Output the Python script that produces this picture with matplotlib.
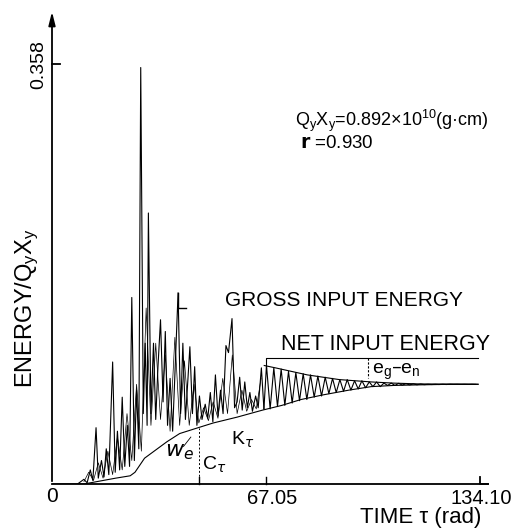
import matplotlib
matplotlib.use("Agg")
import matplotlib.pyplot as plt

# ---------------- data ----------------
# lower boundary curve (K_tau / W_e boundary)
low_t = [0, 10, 12, 16, 20, 24.5, 26, 27.5, 29, 33, 36, 40, 45.8, 50.5, 58, 62, 66,
         72, 78, 85, 93, 100, 107, 115, 125, 133.5]
low_e = [0, 0, 0.001, 0.003, 0.005, 0.007, 0.010, 0.016, 0.022, 0.030, 0.036, 0.043,
         0.048, 0.052, 0.057, 0.060, 0.063, 0.067, 0.072, 0.076, 0.080, 0.083, 0.084,
         0.0845, 0.085, 0.085]

# gross input energy (spiky part, tau < 67)
gross_t = [8, 10, 11, 12, 12.8, 13.8, 14.5, 15.5, 16.3, 17, 17.8, 19, 19.8, 20.5, 21.2,
           22, 22.8, 23.6, 24.3, 25, 25.8, 26.5, 27.2, 27.8, 28.6, 29.2, 29.8, 30.2, 31,
           31.8, 32.5, 33.2, 34, 34.8, 35.5, 36.2, 37, 37.8, 38.6, 39.5, 40.3, 41, 41.8,
           42.6, 43.2, 44, 44.7, 45.4, 46.2, 47, 48, 48.8, 49.6, 50.4, 51.2, 52, 52.8,
           53.6, 54.5, 55.3, 56.4, 57.2, 58, 58.8, 59.6, 60.4, 61.2, 62, 62.8, 63.8,
           64.6, 65.6, 66.4]
gross_e = [0, 0.004, 0.001, 0.012, 0.003, 0.048, 0.005, 0.020, 0.006, 0.030, 0.008,
           0.104, 0.010, 0.045, 0.012, 0.074, 0.015, 0.050, 0.015, 0.159, 0.020, 0.080,
           0.030, 0.355, 0.060, 0.120, 0.050, 0.231, 0.060, 0.120, 0.055, 0.100, 0.140,
           0.070, 0.130, 0.050, 0.090, 0.045, 0.100, 0.163, 0.060, 0.120, 0.055, 0.090,
           0.117, 0.060, 0.100, 0.050, 0.075, 0.055, 0.068, 0.056, 0.078, 0.053, 0.093,
           0.058, 0.080, 0.060, 0.118, 0.112, 0.141, 0.065, 0.070, 0.091, 0.063, 0.087,
           0.065, 0.078, 0.062, 0.075, 0.065, 0.099, 0.064]

# secondary (net) oscillation in the spiky region
net_t = [10, 11.5, 13, 14.5, 16, 17.5, 19, 20.5, 22, 23.5, 25, 26.5, 28, 29.5, 31, 32.5,
         34, 35.5, 37, 38.5, 40, 41.5, 43, 44.5, 46, 47.5, 49, 50.5, 52, 53.5, 55, 56.5,
         58, 59.5, 61, 62.5, 64, 65.5]
net_e = [0.002, 0.010, 0.003, 0.018, 0.005, 0.028, 0.008, 0.040, 0.012, 0.060, 0.020,
         0.085, 0.028, 0.150, 0.050, 0.120, 0.055, 0.110, 0.045, 0.125, 0.050, 0.105,
         0.050, 0.085, 0.052, 0.065, 0.054, 0.070, 0.056, 0.090, 0.060, 0.110, 0.060,
         0.080, 0.062, 0.072, 0.064, 0.090]

# decaying oscillation after tau = 67: peaks and troughs
peak_t = [67.2, 69.5, 71.8, 74.1, 76.4, 78.7, 81.0, 83.3, 85.6, 87.9, 90.2, 92.5, 94.8,
          97.1, 99.4, 101.7, 104.0, 106.3, 108.6, 110.9, 113.2, 115.5, 117.8, 120.1,
          122.4, 124.7, 127.0, 129.3, 131.6]
peak_e = [0.101, 0.099, 0.098, 0.096, 0.095, 0.094, 0.093, 0.092, 0.091, 0.090, 0.089,
          0.089, 0.088, 0.088, 0.087, 0.087, 0.086, 0.086, 0.0858, 0.0855, 0.0853,
          0.0852, 0.085, 0.085, 0.085, 0.085, 0.085, 0.085, 0.085]
trough_t = [68.35, 70.65, 72.95, 75.25, 77.55, 79.85, 82.15, 84.45, 86.75, 89.05, 91.35,
            93.65, 95.95, 98.25, 100.55, 102.85, 105.15, 107.45, 109.75, 112.05, 114.35,
            116.65, 118.95, 121.25, 123.55, 125.85, 128.15, 130.45, 132.75]
trough_e = [0.064, 0.066, 0.067, 0.069, 0.071, 0.072, 0.074, 0.075, 0.077, 0.078, 0.079,
            0.080, 0.081, 0.082, 0.083, 0.083, 0.084, 0.084, 0.0843, 0.0845, 0.0846,
            0.0847, 0.0848, 0.0848, 0.0848, 0.0849, 0.0849, 0.0849, 0.0849]

# upper envelope after tau = 67
env_t = [66.5, 70, 75, 80, 85, 90, 95, 100, 107, 115, 133.5]
env_e = [0.101, 0.099, 0.096, 0.093, 0.091, 0.089, 0.088, 0.087, 0.086, 0.0853, 0.085]

xticks = [0, 67.05, 134.10]
xticklabels = ["0", "67.05", "134.10"]
ytick = 0.358
ctau = 46.2

# ---------------- figure ----------------
W, H = 517, 530
fig = plt.figure(figsize=(W / 100, H / 100), dpi=100)
ax = fig.add_axes([52 / W, (H - 484) / H, 428 / W, 420 / H])
ax.set_xlim(0, 134.1)
ax.set_ylim(0, 0.358)
ax.axis("off")

fam = ["Liberation Sans", "DejaVu Sans"]
nar = ["Liberation Sans Narrow", "Liberation Sans", "DejaVu Sans"]
lw = 0.8
k = "black"

# axes with arrows
ax.annotate("", xy=(0, 0.405), xytext=(0, 0), xycoords="data",
            arrowprops=dict(arrowstyle="-|>,head_length=0.8,head_width=0.2", lw=1.3, color=k),
            annotation_clip=False)
ax.plot([0, 136.5], [0, 0], color=k, lw=1.3, clip_on=False)
ax.plot([134.1, 134.1, 136.5], [0.006, 0, 0], color=k, lw=1.3, clip_on=False)
for t in [ctau, 67.05]:
    ax.plot([t, t], [0, 0.006], color=k, lw=1.0, clip_on=False)
ax.plot([0, 2.5], [ytick, ytick], color=k, lw=1.3, clip_on=False)

# curves
ax.plot(low_t, low_e, color=k, lw=lw)
ax.plot(net_t, net_e, color=k, lw=0.5)
ax.plot(gross_t, gross_e, color=k, lw=lw)
osc_t, osc_e = [], []
for i in range(len(peak_t)):
    osc_t += [peak_t[i], trough_t[i]]
    osc_e += [peak_e[i], trough_e[i]]
ax.plot([gross_t[-1]] + osc_t, [gross_e[-1]] + osc_e, color=k, lw=lw)
ax.plot(env_t, env_e, color=k, lw=lw)

# C_tau dashed line
ax.plot([ctau, ctau], [0, 0.048], color=k, lw=0.7, ls=(0, (2, 2)))
# marker near tau=39.5 peak
ax.plot([39.5, 39.5, 42.0], [0.163, 0.150, 0.150], color=k, lw=1.0)

# bracket for net input energy
ax.plot([67.0, 67.0, 133.5], [0.099, 0.107, 0.107], color=k, lw=0.8)
ax.plot([99.0, 99.0], [0.107, 0.090], color=k, lw=0.8, ls=(0, (2, 1.5)))
# leader for w_e
ax.plot([41.2, 43.5], [0.032, 0.040], color=k, lw=0.6)


def ftext(x, y, s, **kw):
    fig.text(x / W, 1 - y / H, s, **kw)


ftext(39, 65, "0.358", rotation=90, ha="center", va="center", fontsize=14, family=fam)
ftext(27, 308, r"ENERGY/$\mathregular{Q_yX_y}$", rotation=90, ha="center", va="center",
      fontsize=17, family=fam)
ftext(52, 497, xticklabels[0], ha="center", va="center", fontsize=15, family=nar)
ftext(272, 498, xticklabels[1], ha="center", va="center", fontsize=14.5, family=nar)
ftext(481, 499, xticklabels[2], ha="center", va="center", fontsize=14.5, family=nar)
ftext(481, 517, "TIME τ (rad)", ha="right", va="center", fontsize=16, family=fam)
ftext(463, 300, "GROSS INPUT ENERGY", ha="right", va="center", fontsize=15, family=fam)
ftext(490, 344, "NET INPUT ENERGY", ha="right", va="center", fontsize=15.5, family=fam)
ftext(372, 372, r"$\mathregular{e_g}$–$\mathregular{e_n}$", ha="left", va="center",
      fontsize=14, family=fam)
ftext(295, 121, r"$\mathregular{Q_yX_y}$=0.892×10$^{\mathregular{10}}$(g·cm)",
      ha="left", va="center", fontsize=13, family=fam)
ftext(300, 143, r"$\mathbf{r}$ =0.930", ha="left", va="center", fontsize=13.5, family=fam)
ftext(243, 440, r"K$_\tau$", ha="center", va="center", fontsize=14, family=fam)
ftext(180, 452, r"$w_e$", ha="center", va="center", fontsize=16)
ftext(214, 465, r"C$_\tau$", ha="center", va="center", fontsize=14, family=fam)

fig.savefig("out.png", dpi=100)
